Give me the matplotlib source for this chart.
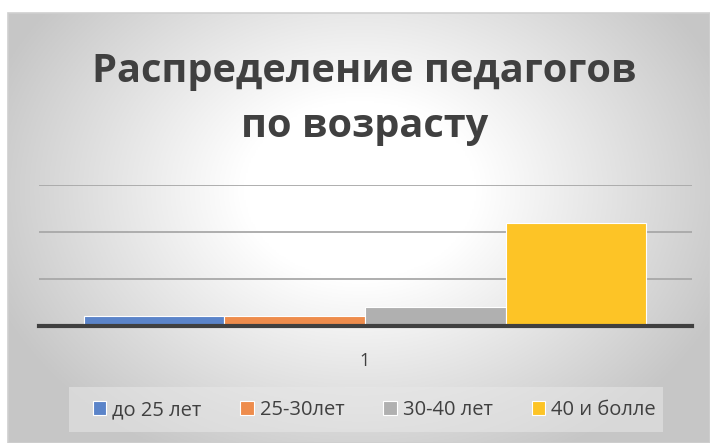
import numpy as np
import matplotlib
matplotlib.use("Agg")
import matplotlib.pyplot as plt
from matplotlib.patches import Rectangle

categories = ["1"]
series_names = ["до 25 лет", "25-30лет", "30-40 лет", "40 и болле"]
series_values = [1, 1, 2, 11]
colors = ["#5b84c9", "#ee8c4c", "#b0b0b0", "#fdc426"]
title = "Распределение педагогов\nпо возрасту"

W, H = 710, 443
fig = plt.figure(figsize=(W / 100, H / 100), dpi=100)
fig.patch.set_facecolor("white")

# background radial gradient inside chart box
bx0, by0, bx1, by1 = 8, 13, 710, 443  # pixel box (top-left origin)
bg = fig.add_axes([bx0 / W, 0, (bx1 - bx0) / W, (H - by0) / H], zorder=0)
xs = np.linspace(bx0, bx1, 400)
ys = np.linspace(by0, by1, 300)
X, Y = np.meshgrid(xs, ys)
cx, cy = 360, 190
r = np.sqrt(((X - cx) / 390) ** 2 + ((Y - cy) / 300) ** 2)
t = np.clip((r - 0.3) / 0.7, 0, 1)
v = 1.0 - 0.22 * t ** 1.0
img = np.dstack([v, v, v])
bg.imshow(img, extent=[0, 1, 0, 1], aspect="auto", origin="upper")
bg.set_xlim(0, 1)
bg.set_ylim(0, 1)
bg.axis("off")
# border
fig.add_artist(Rectangle((bx0 / W, 0), (bx1 - bx0) / W, (H - by0) / H,
                         transform=fig.transFigure, fill=False,
                         edgecolor="#cfcfcf", linewidth=1.2, zorder=1))

# legend backdrop
fig.add_artist(Rectangle((69 / W, (H - 432) / H), (663 - 69) / W, (432 - 387) / H,
                         transform=fig.transFigure, facecolor="#e8e8e8",
                         edgecolor="none", alpha=0.55, zorder=1))

ax = fig.add_axes([38.5 / W, (H - 325.7) / H, 653 / W, (325.7 - 185) / H], zorder=2)
ax.patch.set_alpha(0)
n = len(series_values)
bw = 0.2152
x0 = np.arange(len(categories)) + 1
for i, (name, val, c) in enumerate(zip(series_names, series_values, colors)):
    off = (i - (n - 1) / 2) * bw
    ax.bar(x0 + off, [val], width=bw, color=c, edgecolor="white",
           linewidth=0.8, label=name, zorder=3)

ax.set_xlim(0.5, 1.5)
ax.set_ylim(0, 15)
ax.set_yticks([5, 10, 15])
ax.yaxis.grid(True, color="#a8a8a8", linewidth=1.3, zorder=1)
ax.set_axisbelow(True)
ax.tick_params(axis="y", left=False, labelleft=False)
ax.set_xticks(x0)
ax.set_xticklabels(categories, fontsize=13, color="#404040", family="Open Sans")
ax.tick_params(axis="x", length=0, pad=19)
for s in ["top", "right", "left"]:
    ax.spines[s].set_visible(False)
ax.spines["bottom"].set_color("#404040")
ax.spines["bottom"].set_linewidth(3)
ax.spines["bottom"].set_zorder(4)

fig.text(0.513, (H - 99) / H, title, ha="center", va="center",
         fontsize=28.6, fontweight="bold", color="#404040", family="Open Sans",
         linespacing=1.52)

handles, labels = ax.get_legend_handles_labels()
fig.legend(handles, labels, loc="center", bbox_to_anchor=(0.527, (H - 410) / H),
           ncol=4, frameon=False, handlelength=0.65,
           handleheight=0.65, handletextpad=0.3, columnspacing=1.95,
           prop={"family": "Open Sans", "size": 14.5},
           labelcolor="#404040")

fig.savefig("out.png", dpi=100)
